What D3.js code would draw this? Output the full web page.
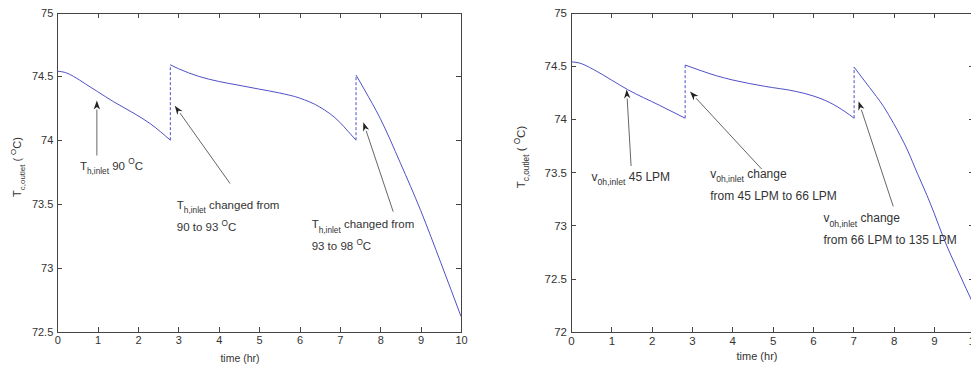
<!DOCTYPE html>
<html>
<head>
<meta charset="utf-8">
<script src="https://cdn.jsdelivr.net/npm/d3@7/dist/d3.min.js"></script>
<style>
  body { margin: 0; background: #fff; }
  svg { display: block; }
  text { font-family: "Liberation Sans", Arial, sans-serif; fill: #333; }
</style>
</head>
<body>
<svg id="canvas" width="971" height="369"></svg>
<script>
// ---- data (time in hr, temperature in degC) ----
var timeTicks = [0, 1, 2, 3, 4, 5, 6, 7, 8, 9, 10];
var leftTempTicks = [72.5, 73, 73.5, 74, 74.5, 75];
var rightTempTicks = [72, 72.5, 73, 73.5, 74, 74.5, 75];

// left chart: T_h,inlet steps 90 -> 93 -> 98 C
var leftSeg1 = [[0, 74.54], [0.2, 74.53], [0.4, 74.50], [0.7, 74.44], [1.0, 74.38], [1.4, 74.30],
                [1.9, 74.21], [2.3, 74.13], [2.8, 74.00]];
var leftSeg2 = [[2.8, 74.59], [3.0, 74.56], [3.5, 74.50], [4.0, 74.46], [4.5, 74.43], [5.0, 74.40],
                [5.5, 74.37], [6.0, 74.33], [6.5, 74.26], [7.0, 74.14], [7.2, 74.07], [7.4, 74.00]];
var leftSeg3 = [[7.4, 74.51], [7.6, 74.40], [8.0, 74.17], [8.5, 73.82], [9.0, 73.45], [9.5, 73.04],
                [10.0, 72.62]];

// right chart: v_0h,inlet steps 45 -> 66 -> 135 LPM
var rightSeg1 = [[0, 74.54], [0.2, 74.53], [0.55, 74.47], [1.0, 74.37], [1.4, 74.28], [2.2, 74.13],
                 [2.83, 74.01]];
var rightSeg2 = [[2.83, 74.51], [3.2, 74.46], [3.6, 74.41], [4.0, 74.37], [4.8, 74.31], [5.6, 74.26],
                 [6.0, 74.22], [6.4, 74.16], [6.8, 74.07], [7.02, 74.01]];
var rightSeg3 = [[7.02, 74.49], [7.4, 74.30], [7.75, 74.12], [8.0, 73.96], [8.33, 73.72], [8.6, 73.48],
                 [8.83, 73.28], [9.0, 73.12], [9.24, 72.88], [9.6, 72.57], [10.0, 72.24]];

// annotations: arrow tail -> tip and text anchor, all in data units
var leftNotes = [
  { tail: [0.98, 73.88], tip: [0.98, 74.31], at: [0.56, 73.77],
    lines: [[["T"], ["h,inlet", "sub"], [" 90 "], ["O", "sup"], ["C"]]] },
  { tail: [4.28, 73.66], tip: [2.91, 74.27], at: [2.96, 73.46],
    lines: [[["T"], ["h,inlet", "sub"], [" changed from"]], [["90 to 93 "], ["O", "sup"], ["C"]]] },
  { tail: [8.32, 73.44], tip: [7.58, 74.14], at: [6.30, 73.31],
    lines: [[["T"], ["h,inlet", "sub"], [" changed from"]], [["93 to 98 "], ["O", "sup"], ["C"]]] }
];
var rightNotes = [
  { tail: [1.49, 73.56], tip: [1.38, 74.28], at: [0.51, 73.42],
    lines: [[["v"], ["0h,inlet", "sub"], [" 45 LPM"]]] },
  { tail: [4.73, 73.53], tip: [2.95, 74.26], at: [3.45, 73.45],
    lines: [[["v"], ["0h,inlet", "sub"], [" change"]], [["from 45 LPM to 66 LPM"]]] },
  { tail: [7.99, 73.18], tip: [7.13, 74.17], at: [6.26, 73.03],
    lines: [[["v"], ["0h,inlet", "sub"], [" change"]], [["from 66 LPM to 135 LPM"]]] }
];

var canvas = d3.select("#canvas");

// text with sub/superscripts built from tspans
function richText(g, x, y, parts, size) {
  var t = g.append("text").attr("x", x).attr("y", y).style("font-size", size + "px");
  var shift = 0;
  parts.forEach(function (p) {
    var target = p[1] == "sub" ? size * 0.38 : p[1] == "sup" ? -size * 0.45 : 0;
    t.append("tspan")
      .attr("dy", target - shift)
      .style("font-size", (p[1] ? size * 0.72 : size) + "px")
      .text(p[0]);
    shift = target;
  });
  return t;
}

function drawPanel(p) {
  var g = canvas.append("g");
  var x = d3.scaleLinear().domain([0, 10]).range(p.xr);
  var y = d3.scaleLinear().domain(p.yd).range(p.yr);

  // axes (MATLAB-style box with inward ticks)
  var axes = g.append("g").attr("class", "axes");
  axes.append("g").attr("transform", "translate(0," + p.yr[0] + ")")
    .call(d3.axisBottom(x).tickValues(timeTicks).tickSizeInner(-5).tickSizeOuter(0).tickPadding(5));
  axes.append("g").attr("transform", "translate(0," + p.yr[1] + ")")
    .call(d3.axisTop(x).tickValues(timeTicks).tickSizeInner(-5).tickSizeOuter(0).tickFormat(""));
  axes.append("g").attr("transform", "translate(" + p.xr[0] + ",0)")
    .call(d3.axisLeft(y).tickValues(p.yTicks).tickSizeInner(-5).tickSizeOuter(0).tickPadding(4)
      .tickFormat(function (d) { return String(d); }));
  axes.append("g").attr("transform", "translate(" + p.xr[1] + ",0)")
    .call(d3.axisRight(y).tickValues(p.yTicks).tickSizeInner(-5).tickSizeOuter(0).tickFormat(""));
  axes.selectAll(".domain").attr("stroke", "#444");
  axes.selectAll(".tick line").attr("stroke", "#444");
  axes.selectAll("text").style("font-size", p.fs + "px").attr("fill", "#333")
    .style("font-family", "'Liberation Sans', Arial, sans-serif");
  axes.selectAll("path, line").attr("shape-rendering", "crispEdges");

  // curve
  var line = d3.line().x(function (d) { return x(d[0]); }).y(function (d) { return y(d[1]); })
    .curve(d3.curveMonotoneX);
  p.segs.forEach(function (s, i) {
    g.append("path").datum(s).attr("d", line)
      .attr("fill", "none").attr("stroke", "#5050c8").attr("stroke-width", 1);
    if (i > 0) {
      var prev = p.segs[i - 1];
      var a = prev[prev.length - 1], b = s[0];
      g.append("line")
        .attr("x1", x(a[0])).attr("y1", y(a[1])).attr("x2", x(b[0])).attr("y2", y(b[1]))
        .attr("stroke", "#5050c8").attr("stroke-width", 1).attr("stroke-dasharray", "3,2");
    }
  });

  // annotations
  p.notes.forEach(function (n) {
    var x1 = x(n.tail[0]), y1 = y(n.tail[1]), x2 = x(n.tip[0]), y2 = y(n.tip[1]);
    var ang = Math.atan2(y2 - y1, x2 - x1), len = 9, hw = 3.2;
    var bx = x2 - len * Math.cos(ang), by = y2 - len * Math.sin(ang);
    g.append("line").attr("x1", x1).attr("y1", y1).attr("x2", bx).attr("y2", by)
      .attr("stroke", "#666").attr("stroke-width", 1);
    g.append("path")
      .attr("d", "M" + x2 + "," + y2 +
        "L" + (bx + hw * Math.sin(ang)) + "," + (by - hw * Math.cos(ang)) +
        "L" + (x2 - len * 0.7 * Math.cos(ang)) + "," + (y2 - len * 0.7 * Math.sin(ang)) +
        "L" + (bx - hw * Math.sin(ang)) + "," + (by + hw * Math.cos(ang)) + "Z")
      .attr("fill", "#222");
    n.lines.forEach(function (ln, k) {
      richText(g, x(n.at[0]), y(n.at[1]) + k * p.lh, ln, p.nfs);
    });
  });

  // axis titles
  g.append("text")
    .attr("x", p.xlab[0]).attr("y", p.xlab[1])
    .attr("text-anchor", "middle").style("font-size", (p.fs - 0.5) + "px")
    .text("time (hr)");
  var yl = richText(g, 0, 0, [["T"], ["c,outlet", "sub"], [" ( "], ["O", "sup"], ["C)"]], p.fs);
  yl.attr("text-anchor", "middle")
    .attr("transform", "translate(" + p.ylab[0] + "," + p.ylab[1] + ") rotate(-90)");
}

drawPanel({
  xr: [57.3, 461], yr: [331.7, 12.5], yd: [72.5, 75], yTicks: leftTempTicks,
  segs: [leftSeg1, leftSeg2, leftSeg3], notes: leftNotes,
  fs: 11, nfs: 11.5, lh: 22, xlab: [240, 362], ylab: [21, 167]
});
drawPanel({
  xr: [571, 974.3], yr: [331.7, 13], yd: [72, 75], yTicks: rightTempTicks,
  segs: [rightSeg1, rightSeg2, rightSeg3], notes: rightNotes,
  fs: 11.5, nfs: 12, lh: 22, xlab: [757, 360], ylab: [525, 157]
});
</script>
</body>
</html>
